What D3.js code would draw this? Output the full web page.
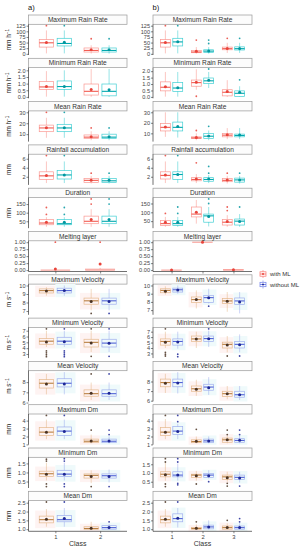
<!DOCTYPE html>
<html><head><meta charset="utf-8">
<script src="https://cdn.jsdelivr.net/npm/d3@7"></script>
<style>body{margin:0;background:#fff} text{font-family:"Liberation Sans",Arial,sans-serif}</style>
</head><body><svg id="c" width="306" height="550"></svg>
<script>
const panelTitles = ["Maximum Rain Rate","Minimum Rain Rate","Mean Rain Rate","Rainfall accumulation","Duration","Melting layer","Maximum Velocity","Minimum Velocity","Mean Velocity","Maximum Dm","Minimum Dm","Mean Dm"];
const unitLabels = [["mm h","−1"],["mm h","−1"],["mm h","−1"],["mm",""],["min",""],["",""],["m s","−1"],["m s","−1"],["m s","−1"],["mm",""],["mm",""],["mm",""]];
const tickSets = [[0,25,50,75,100,125],[0,0.5,1,1.5,2],[10,20,30],[2,4,6],[50,100,150],[0,0.25,0.5,0.75,1],[7,8,9,10],[3,4,5,6,7],[6,7,8],[1,2,3,4],[0.5,1,1.5],[1,1.5,2,2.5]];
const tickDecimals = [0,1,0,0,0,2,0,0,0,0,1,1];
const classesA = [1,2];
const classesB = [1,2,3];
const groups = ["with ML","without ML"];

// rows: [column, class, group, lower whisker, q1, median, q3, upper whisker, mean, outliers]
const maxRainRate = [
 ["a",1,"w",2,30,49,64,104,50,[125]],["a",1,"wo",2,35,46,69,104,52,[125]],
 ["a",2,"w",1,8,15,26,38,18,[67]],["a",2,"wo",1,8,15,26,38,18,[67]],
 ["b",1,"w",2,30,49,64,104,50,[125]],["b",1,"wo",2,35,53,69,104,54,[125]],
 ["b",2,"w",1,5,8,15,30,11,[61]],["b",2,"wo",1,6,12,18,30,13,[46,61]],
 ["b",3,"w",4,18,23,30,49,24,[69]],["b",3,"wo",4,17,23,31,49,24,[69]]];
const minRainRate = [
 ["a",1,"w",0.02,0.56,0.75,1.17,1.94,0.78,[]],["a",1,"wo",0.02,0.56,0.78,1.2,2.0,0.78,[]],
 ["a",2,"w",0,0.14,0.42,0.97,2.1,0.56,[]],["a",2,"wo",0,0.08,0.42,0.97,2.1,0.53,[]],
 ["b",1,"w",0.02,0.47,0.75,1.17,1.94,0.78,[]],["b",1,"wo",0.02,0.42,0.69,1.11,1.94,0.72,[]],
 ["b",2,"w",0.56,0.83,1.11,1.31,2.15,1.14,[0.05]],["b",2,"wo",0.69,1.03,1.25,1.47,1.94,1.3,[2.17]],
 ["b",3,"w",0,0.08,0.36,0.56,1.3,0.42,[]],["b",3,"wo",0,0.03,0.28,0.47,0.83,0.36,[1.33]]];
const meanRainRate = [
 ["a",1,"w",6.7,12.3,15.7,18.3,25,15.8,[30]],["a",1,"wo",6.7,12.3,15.7,19,25,15.9,[30]],
 ["a",2,"w",4.5,6,7.3,9.3,12.7,7.6,[15.7]],["a",2,"wo",4.5,6,7.3,10,12.7,7.7,[15.7]],
 ["b",1,"w",6.7,12.3,15.7,19.3,30,16,[]],["b",1,"wo",6,12.3,15.7,20.7,30,16.5,[]],
 ["b",2,"w",3.5,5,5.7,6.7,10,6,[12.7]],["b",2,"wo",3.5,5,7.3,10,12.7,7.6,[16.7]],
 ["b",3,"w",4.5,6.7,8.3,10,15,8.6,[]],["b",3,"wo",4.5,6.7,8,9.3,15,8.5,[]]];
const rainfallAccumulation = [
 ["a",1,"w",0.6,1.4,2.2,3.1,5.4,2.3,[6.7]],["a",1,"wo",0.6,1.5,2.4,3.4,5.4,2.4,[6.7]],
 ["a",2,"w",0.5,0.7,1.2,1.6,2.2,1.2,[2.8]],["a",2,"wo",0.5,0.7,1.1,1.6,2.2,1.2,[2.8]],
 ["b",1,"w",0.6,1.5,2.3,3.1,5.4,2.4,[6.7]],["b",1,"wo",0.6,1.4,2.5,3.1,5.4,2.5,[6.7]],
 ["b",2,"w",0.6,1.1,1.4,1.8,2.6,1.5,[5.1]],["b",2,"wo",0.6,1.0,1.4,1.8,2.4,1.5,[2.8,4.3]],
 ["b",3,"w",0.5,0.9,1.2,1.6,2.2,1.3,[2.8]],["b",3,"wo",0.5,0.8,1.3,1.7,2.2,1.3,[2.8]]];
const duration = [
 ["a",1,"w",18,30,40,60,74,44,[90,130]],["a",1,"wo",18,30,36,60,74,44,[90,130]],
 ["a",2,"w",18,36,50,80,120,60,[150,180]],["a",2,"wo",18,36,50,80,120,60,[150,180]],
 ["b",1,"w",18,26,36,54,74,44,[94]],["b",1,"wo",18,26,36,54,74,44,[94,130]],
 ["b",2,"w",36,74,90,130,170,100,[]],["b",2,"wo",20,44,80,90,130,76,[150,176]],
 ["b",3,"w",18,28,44,60,84,48,[110,130]],["b",3,"wo",18,28,50,62,90,48,[130]]];
const meltingLayer = [
 ["a",1,"w",0,0,0,0,0,0.04,[1]],["a",2,"w",0,0,0,0.04,0.08,0.22,[1]],
 ["b",1,"w",0,0,0,0,0,0,[]],["b",2,"w",1,1,1,1,1,1,[]],["b",3,"w",0,0,0,0.02,0.04,0.01,[]]];
const maxVelocity = [
 ["a",1,"w",8.8,9.12,9.4,9.6,9.8,9.36,[]],["a",1,"wo",8.8,9.12,9.4,9.68,10,9.4,[]],
 ["a",2,"w",7.08,7.8,8.2,8.52,9.6,8.12,[6.72]],["a",2,"wo",7.08,7.8,8.2,8.52,9.6,8.12,[6.72]],
 ["b",1,"w",8.9,9.12,9.4,9.6,9.9,9.3,[]],["b",1,"wo",9.0,9.2,9.48,9.68,10,9.45,[]],
 ["b",2,"w",7.2,7.92,8.28,8.6,9.4,8.28,[]],["b",2,"wo",7.8,7.92,8.52,8.8,9.6,8.5,[7.48]],
 ["b",3,"w",6.8,7.8,8.12,8.4,9.2,8.08,[]],["b",3,"wo",6.6,7.68,8.12,8.48,9.2,8.0,[]]];
const minVelocity = [
 ["a",1,"w",4.2,4.67,5.2,5.67,7.0,5.07,[7.33,3.53,3.2,2.87,2.53]],["a",1,"wo",4.2,4.67,5.2,5.87,7.0,5.1,[7.33,3.53,3.2,2.87,2.53]],
 ["a",2,"w",3.33,4.2,5.0,5.53,7.0,4.9,[7.33,2.6]],["a",2,"wo",3.33,4.2,4.87,5.53,7.0,4.85,[7.33,2.6]],
 ["b",1,"w",4.0,4.53,5.2,5.67,7.0,5.07,[7.53,3.2,2.87,2.53]],["b",1,"wo",3.87,4.53,5.2,5.67,7.0,5.1,[2.87,2.4]],
 ["b",2,"w",4.0,5.2,5.67,6.2,7.0,5.67,[]],["b",2,"wo",4.2,5.2,5.73,6.2,7.2,5.7,[7.53]],
 ["b",3,"w",3.2,4.0,4.67,5.07,6.2,4.53,[2.53]],["b",3,"wo",3.2,4.0,4.67,5.2,6.5,4.6,[2.53]]];
const meanVelocity = [
 ["a",1,"w",6.8,7.42,7.89,8.25,8.8,7.82,[]],["a",1,"wo",6.8,7.53,7.89,8.33,8.98,7.82,[]],
 ["a",2,"w",6.25,6.62,6.87,7.24,7.96,6.9,[8.8]],["a",2,"wo",6.25,6.62,6.87,7.24,7.96,6.9,[8.8]],
 ["b",1,"w",6.8,7.45,7.89,8.25,8.8,7.82,[]],["b",1,"wo",6.75,7.45,7.89,8.25,8.98,7.85,[]],
 ["b",2,"w",6.5,6.98,7.24,7.53,8.18,7.2,[]],["b",2,"wo",6.6,7.09,7.42,7.71,8.45,7.35,[]],
 ["b",3,"w",6.15,6.44,6.73,6.98,7.53,6.73,[]],["b",3,"wo",6.07,6.36,6.62,6.98,7.53,6.62,[]]];
const maxDm = [
 ["a",1,"w",1.67,2.11,2.55,3.12,4.13,2.55,[4.66]],["a",1,"wo",1.67,2.11,2.68,3.2,4.13,2.64,[4.66]],
 ["a",2,"w",1.14,1.22,1.4,1.67,2.24,1.44,[2.81]],["a",2,"wo",1.14,1.22,1.4,1.67,2.0,1.44,[2.24,2.81]],
 ["b",1,"w",1.67,2.11,2.55,3.12,4.2,2.55,[4.66]],["b",1,"wo",1.67,2.24,2.68,3.25,3.6,2.64,[3.87,4.66]],
 ["b",2,"w",1.14,1.22,1.36,1.58,2.0,1.4,[2.9]],["b",2,"wo",1.14,1.22,1.45,1.67,2.0,1.44,[]],
 ["b",3,"w",1.14,1.27,1.58,1.8,2.1,1.58,[2.24,2.81]],["b",3,"wo",1.14,1.27,1.5,1.72,2.1,1.52,[2.24,2.81]]];
const minDm = [
 ["a",1,"w",0.56,0.78,0.93,1.07,1.54,0.9,[1.63,1.73,0.37,0.22]],["a",1,"wo",0.56,0.78,0.91,1.12,1.54,0.9,[1.63,1.76,0.37,0.22]],
 ["a",2,"w",0.41,0.69,0.84,0.92,1.12,0.78,[0.22]],["a",2,"wo",0.45,0.69,0.82,0.92,1.16,0.78,[0.22]],
 ["b",1,"w",0.56,0.78,0.93,1.07,1.58,0.9,[1.63,1.82,0.37,0.22]],["b",1,"wo",0.56,0.78,0.88,1.07,1.54,0.88,[1.63,1.82,0.41,0.32]],
 ["b",2,"w",0.56,0.75,0.88,0.93,1.12,0.84,[0.37]],["b",2,"wo",0.69,0.75,0.88,0.97,1.16,0.84,[0.5]],
 ["b",3,"w",0.5,0.63,0.78,0.88,1.07,0.73,[0.41,0.25]],["b",3,"wo",0.45,0.63,0.75,0.88,1.07,0.72,[0.25]]];
const meanDm = [
 ["a",1,"w",1.14,1.36,1.54,1.74,2.14,1.56,[2.54]],["a",1,"wo",1.14,1.42,1.54,1.78,2.2,1.6,[2.54]],
 ["a",2,"w",0.96,1.0,1.04,1.14,1.42,1.06,[]],["a",2,"wo",0.96,1.0,1.09,1.2,1.29,1.09,[1.42]],
 ["b",1,"w",1.14,1.36,1.54,1.74,2.14,1.56,[2.54]],["b",1,"wo",1.1,1.42,1.6,1.87,2.2,1.62,[2.54]],
 ["b",2,"w",0.96,1.0,1.04,1.1,1.27,1.05,[1.42]],["b",2,"wo",0.98,1.02,1.13,1.23,1.5,1.13,[]],
 ["b",3,"w",0.97,1.0,1.09,1.18,1.33,1.09,[1.5]],["b",3,"wo",0.97,1.0,1.09,1.18,1.33,1.1,[1.42,1.6]]];

const panelData = [maxRainRate,minRainRate,meanRainRate,rainfallAccumulation,duration,meltingLayer,maxVelocity,minVelocity,meanVelocity,maxDm,minDm,meanDm];

// styles
const topStyle = {
  w:{stroke:"#F8766D", med:"#F25C52", mean:"#E8433A", tint:null},
  wo:{stroke:"#00BFC4", med:"#00A8AE", mean:"#0097A0", tint:null}};
const lowStyle = {
  w:{stroke:"#DDA56C", med:"#B98043", mean:"#4A3222", tint:"#FEF3F2"},
  wo:{stroke:"#8494EA", med:"#5163D6", mean:"#1D2796", tint:"#EFFAFB"}};

const svg = d3.select("#c");
const cols = [
  {id:"a", x0:28.5, x1:127, classes:classesA, label:"a)"},
  {id:"b", x0:153, x1:252, classes:classesB, label:"b)"}];
const pitch = 43.3, stripH = 9.3, plotH = 30.7, firstTop = 15;

cols.forEach(col => {
  const x = d3.scaleLinear().domain([0.4, col.classes.length + 0.6]).range([col.x0, col.x1]);
  const unit = x(2) - x(1);
  svg.append("text").attr("x", col.x0 - 0.5).attr("y", 10).attr("font-size", 7.5).attr("fill","#111").text(col.label);

  panelTitles.forEach((title, k) => {
    const sTop = firstTop + k * pitch;
    const pTop = sTop + stripH, pBot = pTop + plotH;
    const rows = panelData[k].filter(r => r[0] === col.id);
    const vals = rows.flatMap(r => [r[3], r[7], r[8], ...r[9]]);
    let [mn, mx] = d3.extent(vals);
    const pad = (mx - mn) * 0.05;
    const y = d3.scaleLinear().domain([mn - pad, mx + pad]).range([pBot, pTop]);
    const style = k >= 6 ? lowStyle : topStyle;

    // strip
    svg.append("rect").attr("x", col.x0).attr("y", sTop).attr("width", col.x1 - col.x0).attr("height", stripH)
      .attr("fill", "#fcfcfc").attr("stroke", "#999").attr("stroke-width", 0.7);
    svg.append("text").attr("x", (col.x0 + col.x1) / 2).attr("y", sTop + stripH / 2 + 2.4)
      .attr("text-anchor", "middle").attr("font-size", 6.6).attr("fill", "#333").text(title);

    const g = svg.append("g");
    rows.forEach(r => {
      const [c, cls, grp, lo, q1, med, q3, hi, mean, outs] = r;
      const st = style[grp];
      if (st.tint) {
        const iqr = q3 - q1;
        const tl = Math.max(lo, q1 - 0.6 * iqr), th = Math.min(hi, q3 + 0.6 * iqr);
        const tcx = x(cls) + (grp === "w" ? -0.225 : 0.225) * unit;
        g.append("rect").attr("x", tcx - 0.225 * unit).attr("width", 0.45 * unit)
          .attr("y", y(th) - 1.5).attr("height", y(tl) - y(th) + 3).attr("fill", st.tint);
      }
    });
    rows.forEach(r => {
      const [c, cls, grp, lo, q1, med, q3, hi, mean, outs] = r;
      const st = style[grp];
      let cx, w;
      if (k === 5) { cx = x(cls); w = 0.65 * unit; }
      else { cx = x(cls) + (grp === "w" ? -0.2 : 0.2) * unit; w = 0.32 * unit; }
      g.append("line").attr("x1", cx).attr("x2", cx).attr("y1", y(hi)).attr("y2", y(q3))
        .attr("stroke", st.stroke).attr("stroke-width", 0.6).attr("stroke-opacity", 0.7);
      g.append("line").attr("x1", cx).attr("x2", cx).attr("y1", y(q1)).attr("y2", y(lo))
        .attr("stroke", st.stroke).attr("stroke-width", 0.6).attr("stroke-opacity", 0.7);
      g.append("rect").attr("x", cx - w / 2).attr("y", y(q3)).attr("width", w).attr("height", Math.max(0.01, y(q1) - y(q3)))
        .attr("fill", k === 5 ? "#FBD3D0" : "none").attr("fill-opacity", k === 5 ? 0.6 : 0)
        .attr("stroke", st.stroke).attr("stroke-width", 0.7).attr("stroke-opacity", k === 5 ? 0.55 : 0.75);
      g.append("line").attr("x1", cx - w / 2).attr("x2", cx + w / 2).attr("y1", y(med)).attr("y2", y(med))
        .attr("stroke", st.med).attr("stroke-width", k === 5 ? 0.8 : 1.1).attr("stroke-opacity", k === 5 ? 0.5 : 1);
      outs.forEach(o => g.append("circle").attr("cx", cx).attr("cy", y(o)).attr("r", 0.9).attr("fill", st.mean).attr("fill-opacity", 0.85));
      g.append("circle").attr("cx", cx).attr("cy", y(mean)).attr("r", 1.5).attr("fill", st.mean);
    });

    // y axis
    const ax = svg.append("g").attr("transform", `translate(${col.x0},0)`)
      .call(d3.axisLeft(y).tickValues(tickSets[k]).tickSize(2).tickPadding(1).tickFormat(d3.format("." + tickDecimals[k] + "f")));
    ax.select(".domain").attr("stroke", "#333").attr("stroke-width", 0.7).attr("d", `M0,${pTop}V${pBot}`);
    ax.selectAll(".tick line").attr("stroke", "#333").attr("stroke-width", 0.6);
    ax.selectAll(".tick text").attr("font-size", 5.6).attr("fill", "#444").attr("font-family", "Liberation Sans, Arial, sans-serif");

    // unit label (left column only)
    if (col.id === "a" && unitLabels[k][0]) {
      const t = svg.append("text").attr("transform", `translate(11,${(pTop + pBot) / 2}) rotate(-90)`)
        .attr("text-anchor", "middle").attr("font-size", 6.4).attr("fill", "#222");
      t.append("tspan").text(unitLabels[k][0]);
      if (unitLabels[k][1]) t.append("tspan").attr("dy", -2.5).attr("font-size", 4.6).text(unitLabels[k][1]);
    }

    // bottom axes
    if (k === 5 || k === 11) {
      const bx = svg.append("g").attr("transform", `translate(0,${pBot})`)
        .call(d3.axisBottom(x).tickValues(col.classes).tickSize(2).tickPadding(1.5).tickFormat(d3.format("d")));
      bx.select(".domain").attr("stroke", "#333").attr("stroke-width", 0.7).attr("d", `M${col.x0},0H${col.x1}`);
      bx.selectAll(".tick line").attr("stroke", "#333").attr("stroke-width", 0.6);
      bx.selectAll(".tick text").attr("font-size", 5.8).attr("fill", "#444").attr("font-family", "Liberation Sans, Arial, sans-serif");
      if (k === 5) bx.selectAll(".tick text").remove();
      if (k === 11) {
        svg.append("text").attr("x", (col.x0 + col.x1) / 2).attr("y", pBot + 14.5).attr("text-anchor", "middle")
          .attr("font-size", 7).attr("fill", "#333").text("Class");
      }
    }
  });
});

// legend
const legColors = [{s:"#F8766D", m:"#E8433A"}, {s:"#6C7EE8", m:"#1D2796"}];
groups.forEach((gname, i) => {
  const ly = 274 + i * 10.5, lx = 263;
  const c = legColors[i];
  svg.append("line").attr("x1", lx).attr("x2", lx).attr("y1", ly - 4).attr("y2", ly + 4).attr("stroke", c.s).attr("stroke-width", 0.6);
  svg.append("rect").attr("x", lx - 3).attr("y", ly - 2.2).attr("width", 6).attr("height", 4.4).attr("fill", "#fff").attr("stroke", c.s).attr("stroke-width", 0.7);
  svg.append("line").attr("x1", lx - 3).attr("x2", lx + 3).attr("y1", ly).attr("y2", ly).attr("stroke", c.s).attr("stroke-width", 0.9);
  svg.append("circle").attr("cx", lx).attr("cy", ly).attr("r", 1).attr("fill", c.m);
  svg.append("text").attr("x", lx + 7).attr("y", ly + 2).attr("font-size", 6).attr("fill", "#333").text(gname);
});
</script></body></html>
